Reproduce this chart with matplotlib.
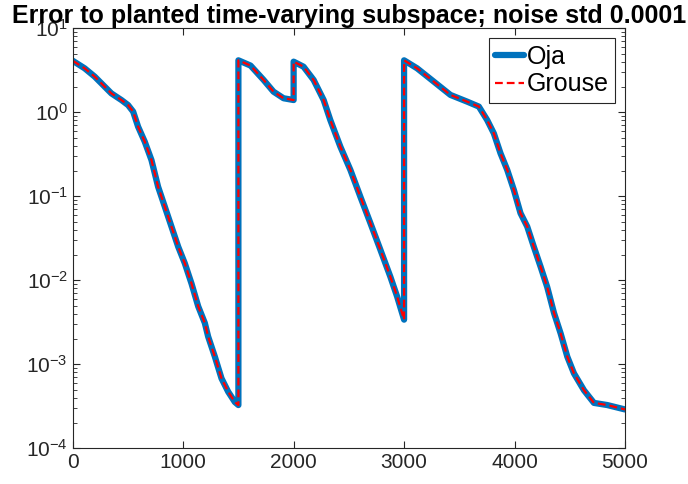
import matplotlib
matplotlib.use("Agg")
import matplotlib.pyplot as plt
import numpy as np
from matplotlib.ticker import LogLocator, NullFormatter

# error curve (Oja and Grouse lie on top of each other)
iters = [0, 108, 199, 260, 350, 441, 501, 547, 592, 652, 713, 773, 834, 894,
         955, 1015, 1076, 1136, 1196, 1226, 1287, 1347, 1408, 1468, 1500,
         1500, 1610, 1728, 1818, 1909, 2000,
         2000, 2090, 2181, 2272, 2332, 2423, 2514, 2604, 2695, 2786, 2876,
         2937, 3000,
         3000, 3118, 3269, 3420, 3571, 3677, 3752, 3813, 3873, 3934, 3994,
         4054, 4115, 4175, 4236, 4296, 4357, 4417, 4478, 4538, 4629, 4719,
         4840, 5000]
err = [4.11, 3.34, 2.66, 2.21, 1.68, 1.40, 1.22, 1.02, 0.674, 0.447, 0.27,
       0.13, 0.075, 0.0436, 0.0251, 0.0159, 0.0091, 0.0049, 0.0031, 0.00214,
       0.00123, 6.8e-4, 4.7e-4, 3.55e-4, 3.27e-4,
       4.16, 3.6, 2.43, 1.76, 1.47, 1.40,
       4.01, 3.49, 2.43, 1.40, 0.81, 0.39, 0.206, 0.099, 0.048, 0.023, 0.011,
       0.0064, 0.0034,
       4.16, 3.34, 2.32, 1.61, 1.34, 1.17, 0.81, 0.56, 0.325, 0.206, 0.119,
       0.063, 0.0436, 0.025, 0.0145, 0.0083, 0.0041, 0.00234, 0.00123, 7.8e-4,
       4.9e-4, 3.47e-4, 3.27e-4, 2.9e-4]
oja = np.array(err)
grouse = np.array(err)

plt.rcParams['font.family'] = ['Liberation Sans', 'DejaVu Sans']
plt.rcParams['mathtext.fontset'] = 'custom'
plt.rcParams['mathtext.rm'] = 'Liberation Sans'
plt.rcParams['mathtext.default'] = 'regular'
plt.rcParams['axes.unicode_minus'] = False

fig = plt.figure(figsize=(6.88, 4.84), dpi=100)
ax = fig.add_axes([0.1057, 0.0738, 0.8027, 0.8677])

ax.plot(iters, oja, color='#0072BD', linewidth=4.5, label='Oja',
        solid_joinstyle='round', solid_capstyle='round')
ax.plot(iters, grouse, color='red', linestyle=(0, (3.5, 1.8)), linewidth=1.6, label='Grouse')

ax.set_yscale('log')
ax.set_xlim(0, 5000)
ax.set_ylim(1e-4, 10)
ax.set_xticks([0, 1000, 2000, 3000, 4000, 5000])
ax.yaxis.set_major_locator(LogLocator(base=10, numticks=10))
ax.yaxis.set_minor_locator(LogLocator(base=10, subs=np.arange(2, 10), numticks=20))
ax.yaxis.set_minor_formatter(NullFormatter())

ax.tick_params(which='both', direction='in', top=True, right=True,
               labelsize=15, colors='#262626', labelcolor='#262626')
ax.tick_params(which='major', length=5, width=0.8)
ax.tick_params(which='minor', length=3, width=0.6)
for s in ax.spines.values():
    s.set_color('#262626')
    s.set_linewidth(0.8)

ax.set_title('Error to planted time-varying subspace; noise std 0.0001',
             fontsize=18, fontweight='bold', pad=3)

leg = ax.legend(loc='upper right', fontsize=18, handlelength=1.15, handletextpad=0.1,
                borderpad=0.25, labelspacing=0.15, fancybox=False,
                borderaxespad=0.4, framealpha=1)
leg.get_frame().set_edgecolor('#262626')
leg.get_frame().set_linewidth(0.8)

fig.savefig('out.png', dpi=100)
